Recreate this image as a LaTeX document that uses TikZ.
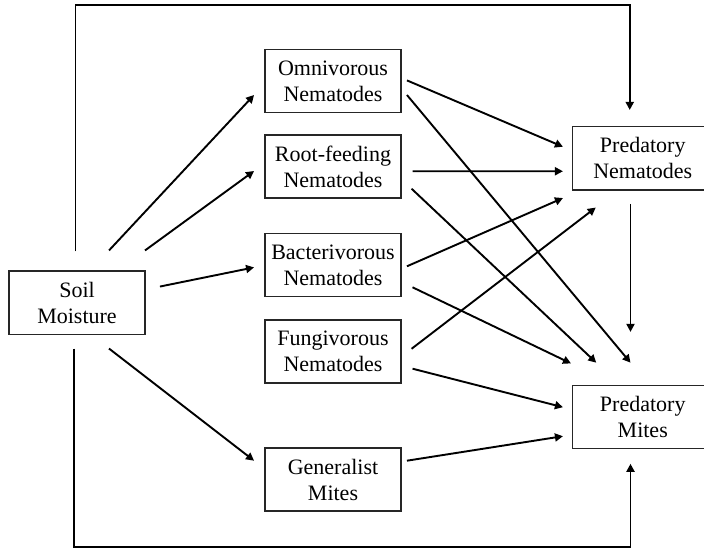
\documentclass[tikz,border=0pt]{standalone}
\usepackage{fontspec}
\setmainfont{Liberation Serif}
\usetikzlibrary{arrows.meta,calc}
\begin{document}
\begin{tikzpicture}[x=1pt,y=-1pt,
  box/.style={draw=black!85,line width=1.1pt,rectangle,inner sep=0pt,align=center,
    font=\fontsize{22}{26}\selectfont,minimum width=136pt,minimum height=63pt},
  rbox/.style={box,minimum width=140.5pt,minimum height=63.5pt},
  arr/.style={line width=1.9pt,-{Triangle[length=8pt,width=8pt]}}]
\useasboundingbox (0,0) rectangle (704,548);
\node[box,minimum height=63.5pt] (soil) at (77,302.75) {Soil\\Moisture};
\node[box] (omni) at (333,81) {Omnivorous\\Nematodes};
\node[box] (root) at (333,166.5) {Root-feeding\\Nematodes};
\node[box] (bact) at (333,265) {Bacterivorous\\Nematodes};
\node[box] (fung) at (333,351.5) {Fungivorous\\Nematodes};
\node[box] (gen) at (333,479.5) {Generalist\\Mites};
\node[rbox] (pn) at (642.75,158.25) {Predatory\\Nematodes};
\node[rbox] (pm) at (642.75,417) {Predatory\\Mites};
% outer loops
\draw[arr] ($(soil.north)+(-1.5,-19)$) -- ++(0,-246) -| ($(pn.north)+(-13,-16)$);
\draw[arr] ($(soil.south)+(-3,13.5)$) -- ++(0,198) -| ($(pm.south)+(-12.25,14.5)$);
% soil to groups
\draw[arr] ($(soil.north)+(32,-20)$) -- ($(omni.west)+(-10.4,14)$);
\draw[arr] ($(soil.north)+(68,-20)$) -- ($(root.west)+(-10.4,4.5)$);
\draw[arr] ($(soil.east)+(14.4,-16.2)$) -- ($(bact.west)+(-10.4,2.4)$);
\draw[arr] ($(soil.south)+(32,13.5)$) -- ($(gen.west)+(-10.4,-18.8)$);
% groups to predators
\draw[arr] ($(omni.east)+(5.4,-0.6)$) -- ($(pn.west)+(-9,-11.5)$);
\draw[arr] ($(omni.east)+(5.4,14)$) -- ($(pm.north)+(-12.25,-22)$);
\draw[arr] ($(root.east)+(11,4.8)$) -- ($(pn.west)+(-9,13)$);
\draw[arr] ($(root.east)+(10,22.2)$) -- ($(pm.north)+(-46.5,-22)$);
\draw[arr] ($(bact.east)+(5.4,1.3)$) -- ($(pn.south west)+(-9,7.5)$);
\draw[arr] ($(bact.east)+(11,22.3)$) -- ($(pm.north west)+(-1,-21.3)$);
\draw[arr] ($(fung.east)+(10,-2.7)$) -- ($(pn.south west)+(23.8,17)$);
\draw[arr] ($(fung.east)+(11,17.2)$) -- ($(pm.west)+(-9,-9.8)$);
\draw[arr] ($(gen.east)+(5.4,-18.8)$) -- ($(pm.west)+(-9,19.2)$);
\draw[arr] ($(pn.south)+(-12.25,13.4)$) -- ($(pm.north)+(-12.25,-52.8)$);
\end{tikzpicture}
\end{document}
